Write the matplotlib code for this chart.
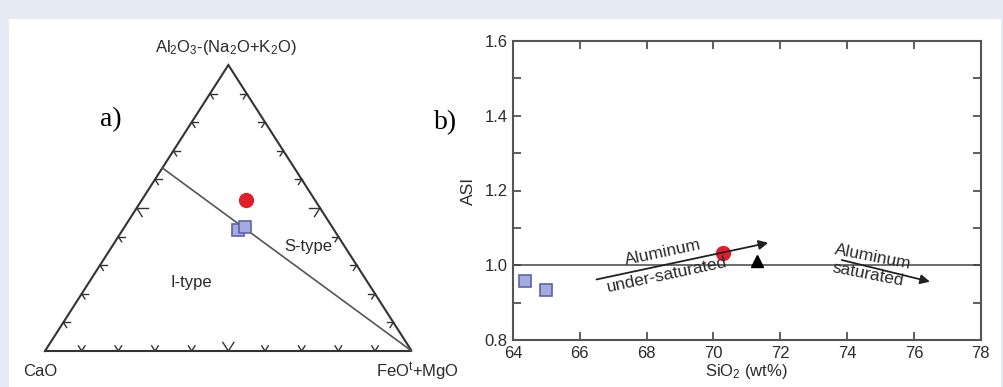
import matplotlib
matplotlib.use("Agg")
import matplotlib.pyplot as plt
from matplotlib.patches import Rectangle
from matplotlib.ticker import MultipleLocator

plt.rcParams["font.family"] = ["Liberation Sans", "DejaVu Sans"]
plt.rcParams["mathtext.fontset"] = "custom"
plt.rcParams["mathtext.rm"] = "Liberation Sans"
plt.rcParams["mathtext.it"] = "Liberation Sans:italic"

# ACF ternary data (fractions of A, C, F)
apex_labels = ["Al$_2$O$_3$-(Na$_2$O+K$_2$O)", "CaO", "FeO$^{\\mathrm{t}}$+MgO"]
circle_a = [0.528]
circle_f = [0.283]
square_a = [0.423, 0.434]
square_f = [0.316, 0.328]
boundary_a = [0.64, 0.0]
boundary_f = [0.0, 1.0]
field_labels = ["I-type", "S-type"]

# ASI vs SiO2 data
sio2_squares = [64.36, 64.99]
asi_squares = [0.958, 0.934]
sio2_circle = [70.28]
asi_circle = [1.032]
sio2_triangle = [71.31]
asi_triangle = [1.012]
asi_limit = 1.0
xticks = [64, 66, 68, 70, 72, 74, 76, 78]
yticks = [0.8, 1.0, 1.2, 1.4, 1.6]

text_col = "#2b2b2b"
sq_face = "#a4acdf"
sq_edge = "#5c64aa"
red = "#e01f2b"

fig = plt.figure(figsize=(10.04, 3.87), dpi=100)
fig.patch.set_facecolor("#e6eaf5")
fig.patches.append(Rectangle((9 / 1004, 0), 992 / 1004, 368 / 387,
                             transform=fig.transFigure, facecolor="white",
                             edgecolor="none", zorder=-5))


def to_xy(a, f):
    # ternary -> triangle coords (base 0..1, apex at y=1)
    return f + a / 2.0, a


# ---- a) ternary plot ----
ax1 = fig.add_axes([45 / 1004, 36 / 387, 366.7 / 1004, 286 / 387])
ax1.set_xlim(0, 1)
ax1.set_ylim(0, 1)
ax1.axis("off")

tri_x = [0, 1, 0.5, 0]
tri_y = [0, 0, 1, 0]
ax1.plot(tri_x, tri_y, color="#333333", lw=1.5, clip_on=False,
         solid_joinstyle="miter")

# small tick marks every 10 %
for k in range(1, 10):
    s = k / 10
    d = 0.03 if k == 5 else 0.018
    # base (a = 0, f = s): arms up-left and up-right
    for da, df in [(d, 0), (d, -d)]:
        x0, y0 = to_xy(0, s)
        x1, y1 = to_xy(da, s + df)
        ax1.plot([x0, x1], [y0, y1], color="#333333", lw=1, clip_on=False)
    # left edge (f = 0, a = s)
    for da, df in [(0, d), (-d, d)]:
        x0, y0 = to_xy(s, 0)
        x1, y1 = to_xy(s + da, df)
        ax1.plot([x0, x1], [y0, y1], color="#333333", lw=1, clip_on=False)
    # right edge (c = 0, a = s, f = 1 - s)
    for da, df in [(0, -d), (-d, 0)]:
        x0, y0 = to_xy(s, 1 - s)
        x1, y1 = to_xy(s + da, 1 - s + df)
        ax1.plot([x0, x1], [y0, y1], color="#333333", lw=1, clip_on=False)

bx, by = to_xy(boundary_a[0], boundary_f[0])
ex, ey = to_xy(boundary_a[1], boundary_f[1])
ax1.plot([bx, ex], [by, ey], color="#555555", lw=1.2)

for a, f in zip(square_a, square_f):
    x, y = to_xy(a, f)
    ax1.plot(x, y, "s", ms=8.5, mfc=sq_face, mec=sq_edge, mew=1.2)
cx, cy = to_xy(circle_a[0], circle_f[0])
ax1.plot(cx, cy, "o", ms=10, color=red, mec=red)

ax1.text(0.494, 1.062, apex_labels[0], ha="center", va="center",
         fontsize=12, color=text_col)
ax1.text(-0.014, -0.073, apex_labels[1], ha="center", va="center",
         fontsize=12, color=text_col)
ax1.text(1.015, -0.073, apex_labels[2], ha="center", va="center",
         fontsize=12, color=text_col)
ax1.text(0.40, 0.241, field_labels[0], ha="center", va="center",
         fontsize=12, color=text_col)
ax1.text(0.717, 0.364, field_labels[1], ha="center", va="center",
         fontsize=12, color=text_col)
ax1.text(0.179, 0.81, "a)", ha="center", va="center", fontsize=20,
         family="Liberation Serif", color="black")

# ---- b) ASI vs SiO2 ----
ax2 = fig.add_axes([513 / 1004, 47 / 387, 467.7 / 1004, 299 / 387])
ax2.set_xlim(64, 78)
ax2.set_ylim(0.8, 1.6)
ax2.set_xticks(xticks)
ax2.set_yticks(yticks)
ax2.yaxis.set_minor_locator(MultipleLocator(0.1))
ax2.tick_params(which="both", direction="in", length=6, width=1.2,
                top=True, right=True, colors="#444444", labelcolor=text_col,
                labelsize=12, pad=4)
for sp in ax2.spines.values():
    sp.set_color("#555555")
    sp.set_linewidth(1.5)

ax2.axhline(asi_limit, color="#444444", lw=1.1, zorder=1)
ax2.plot(sio2_squares, asi_squares, "s", ms=8.5, mfc=sq_face, mec=sq_edge,
         mew=1.2, zorder=3)
ax2.plot(sio2_circle, asi_circle, "o", ms=10, color=red, mec=red, zorder=3)
ax2.plot(sio2_triangle, asi_triangle, "^", ms=8, color="black", zorder=3)

ax2.annotate("", xy=(71.64, 1.060), xytext=(66.5, 0.962),
             arrowprops=dict(arrowstyle="-|>", color="#222222", lw=1.3,
                             mutation_scale=14, shrinkA=0, shrinkB=0))
ax2.annotate("", xy=(76.48, 0.956), xytext=(73.84, 1.014),
             arrowprops=dict(arrowstyle="-|>", color="#222222", lw=1.3,
                             mutation_scale=14, shrinkA=0, shrinkB=0))

ax2.text(68.49, 1.033, "Aluminum", rotation=12, rotation_mode="anchor",
         ha="center", va="center", fontsize=12.5, color=text_col)
ax2.text(68.6, 0.974, "under-saturated", rotation=12, rotation_mode="anchor",
         ha="center", va="center", fontsize=12.5, color=text_col)
ax2.text(74.78, 1.023, "Aluminum", rotation=-11, rotation_mode="anchor",
         ha="center", va="center", fontsize=12.5, color=text_col)
ax2.text(74.63, 0.974, "saturated", rotation=-11, rotation_mode="anchor",
         ha="center", va="center", fontsize=12.5, color=text_col)

ax2.set_xlabel("SiO$_2$ (wt%)", fontsize=12, color=text_col, labelpad=1)
ax2.set_ylabel("ASI", fontsize=12.5, color=text_col, labelpad=6)
ax2.text(-0.145, 0.726, "b)", transform=ax2.transAxes, ha="center",
         va="center", fontsize=20, family="Liberation Serif", color="black")

fig.savefig("out.png", dpi=100, facecolor=fig.get_facecolor())
